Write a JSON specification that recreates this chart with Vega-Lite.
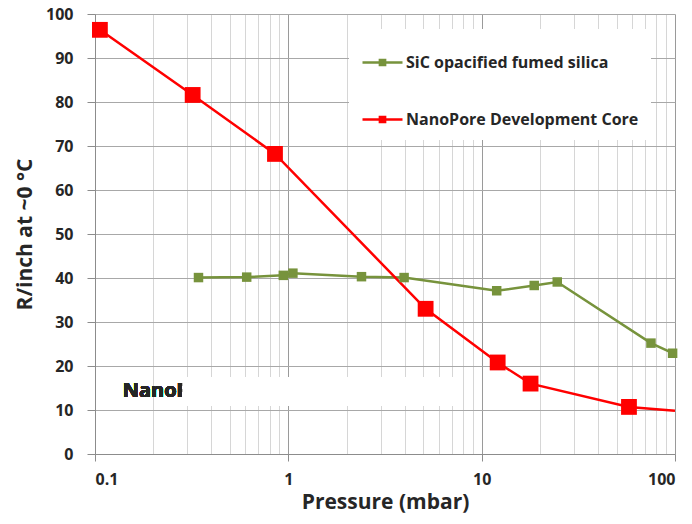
{
  "$schema": "https://vega.github.io/schema/vega-lite/v6.json",
  "description": "R/inch at ~0 C versus pressure, SiC opacified fumed silica against NanoPore development core",
  "width": 580,
  "height": 440,
  "autosize": {"type": "none"},
  "padding": {"left": 95, "top": 14, "right": 17, "bottom": 70},
  "background": "white",
  "config": {
    "view": {"stroke": null},
    "font": "Open Sans",
    "axis": {
      "labelFont": "Open Sans",
      "labelFontSize": 16,
      "labelFontWeight": "bold",
      "labelColor": "#262626",
      "titleFont": "Open Sans",
      "titleFontSize": 21,
      "titleFontWeight": "bold",
      "titleColor": "#262626",
      "domainColor": "#8c8c8c",
      "tickColor": "#8c8c8c"
    }
  },
  "data": {
    "values": [
      {"series": "SiC opacified fumed silica", "pressure": 0.343, "r": 40.1},
      {"series": "SiC opacified fumed silica", "pressure": 0.609, "r": 40.2},
      {"series": "SiC opacified fumed silica", "pressure": 0.942, "r": 40.6},
      {"series": "SiC opacified fumed silica", "pressure": 1.056, "r": 41.1},
      {"series": "SiC opacified fumed silica", "pressure": 2.39, "r": 40.3},
      {"series": "SiC opacified fumed silica", "pressure": 3.97, "r": 40.1},
      {"series": "SiC opacified fumed silica", "pressure": 11.96, "r": 37.1},
      {"series": "SiC opacified fumed silica", "pressure": 18.7, "r": 38.3},
      {"series": "SiC opacified fumed silica", "pressure": 24.6, "r": 39.1},
      {"series": "SiC opacified fumed silica", "pressure": 75.1, "r": 25.2},
      {"series": "SiC opacified fumed silica", "pressure": 97.2, "r": 22.9},
      {"series": "NanoPore Development Core", "pressure": 0.106, "r": 96.4},
      {"series": "NanoPore Development Core", "pressure": 0.32, "r": 81.6},
      {"series": "NanoPore Development Core", "pressure": 0.853, "r": 68.2},
      {"series": "NanoPore Development Core", "pressure": 5.13, "r": 33.0},
      {"series": "NanoPore Development Core", "pressure": 12.1, "r": 20.8},
      {"series": "NanoPore Development Core", "pressure": 17.9, "r": 16.0},
      {"series": "NanoPore Development Core", "pressure": 57.8, "r": 10.7},
      {"series": "NanoPore Development Core", "pressure": 100, "r": 9.85}
    ]
  },
  "encoding": {
    "x": {
      "field": "pressure",
      "type": "quantitative",
      "title": "Pressure (mbar)",
      "scale": {"type": "log", "domain": [0.1, 100], "nice": false},
      "axis": {
        "values": [0.1, 0.2, 0.3, 0.4, 0.5, 0.6, 0.7, 0.8, 0.9, 1, 2, 3, 4, 5, 6, 7, 8, 9, 10, 20, 30, 40, 50, 60, 70, 80, 90, 100],
        "format": "~g",
        "labelExpr": "datum.value == 0.1 || datum.value == 1 || datum.value == 10 || datum.value == 100 ? datum.label : ''",
        "grid": true,
        "gridColor": {
          "condition": {"test": "datum.value == 0.1 || datum.value == 1 || datum.value == 10 || datum.value == 100", "value": "#9a9a9a"},
          "value": "#d6d6d6"
        },
        "tickOpacity": {
          "condition": {"test": "datum.value == 0.1 || datum.value == 1 || datum.value == 10 || datum.value == 100", "value": 1},
          "value": 0
        },
        "tickSize": 7,
        "labelPadding": 10,
        "labelOverlap": false,
        "titlePadding": 4
      }
    },
    "y": {
      "field": "r",
      "type": "quantitative",
      "title": "R/inch at ~0 °C",
      "scale": {"domain": [0, 100], "nice": false},
      "axis": {
        "values": [0, 10, 20, 30, 40, 50, 60, 70, 80, 90, 100],
        "grid": true,
        "gridColor": "#a8a8a8",
        "tickSize": 8,
        "labelPadding": 14,
        "titlePadding": 10
      }
    },
    "color": {
      "field": "series",
      "type": "nominal",
      "scale": {
        "domain": ["SiC opacified fumed silica", "NanoPore Development Core"],
        "range": ["#77933C", "#FF0000"]
      },
      "legend": {
        "title": null,
        "orient": "none",
        "legendX": 254,
        "legendY": 15,
        "fillColor": "white",
        "padding": 12,
        "rowPadding": 27,
        "symbolType": "M-1,0H1M-0.13,-0.13H0.13V0.13H-0.13Z",
        "symbolSize": 1600,
        "labelOffset": 2,
        "labelFont": "Open Sans",
        "labelFontSize": 16,
        "labelFontWeight": "bold",
        "labelColor": "#262626",
        "labelLimit": 400,
        "encode": {
          "symbols": {
            "update": {
              "stroke": {"scale": "color", "field": "value"},
              "fill": {"scale": "color", "field": "value"},
              "strokeWidth": {"value": 2.5},
              "opacity": {"value": 1}
            }
          }
        }
      }
    }
  },
  "layer": [
    {
      "mark": {"type": "text", "align": "left", "baseline": "middle", "fontSize": 20, "fontWeight": "bold", "fill": "#262626", "font": "Open Sans"},
      "encoding": {
        "x": {"datum": 0.139},
        "y": {"datum": 14.3},
        "text": {"value": "NanoPore Development Core"},
        "color": null
      }
    },
    {
      "mark": {"type": "rect", "color": "white"},
      "encoding": {
        "x": {"datum": 0.285},
        "x2": {"datum": 7.13},
        "y": {"datum": 17.5},
        "y2": {"datum": 10.9},
        "color": null
      }
    },
    {
      "mark": {"type": "line", "strokeWidth": 2.5}
    },
    {
      "transform": [{"filter": "datum.series == 'SiC opacified fumed silica'"}],
      "mark": {"type": "point", "shape": "square", "filled": true, "opacity": 1, "size": 90}
    },
    {
      "transform": [{"filter": "datum.series == 'NanoPore Development Core' && datum.pressure < 100"}],
      "mark": {"type": "point", "shape": "square", "filled": true, "opacity": 1, "size": 250}
    }
  ]
}
